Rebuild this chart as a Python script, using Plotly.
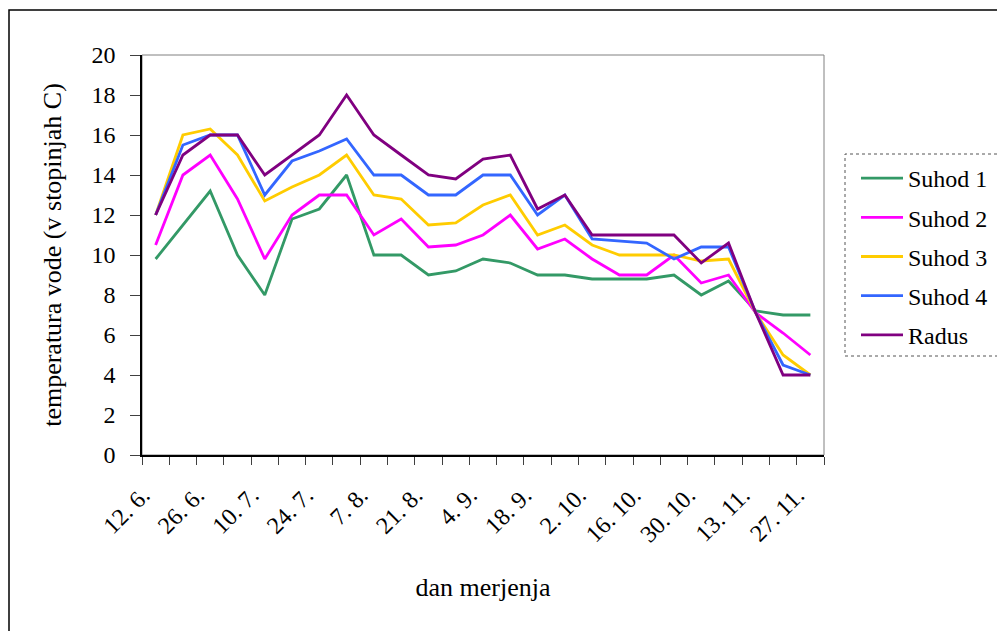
import plotly.graph_objects as go

dates = ["12. 6.", "19. 6.", "26. 6.", "3. 7.", "10. 7.", "17. 7.", "24. 7.", "31. 7.",
         "7. 8.", "14. 8.", "21. 8.", "28. 8.", "4. 9.", "11. 9.", "18. 9.", "25. 9.",
         "2. 10.", "9. 10.", "16. 10.", "23. 10.", "30. 10.", "6. 11.", "13. 11.", "20. 11.", "27. 11."]
shown_labels = ["12. 6.", "26. 6.", "10. 7.", "24. 7.", "7. 8.", "21. 8.", "4. 9.",
                "18. 9.", "2. 10.", "16. 10.", "30. 10.", "13. 11.", "27. 11."]

suhod1 = [9.8, 11.5, 13.2, 10, 8, 11.8, 12.3, 14, 10, 10, 9, 9.2, 9.8, 9.6, 9, 9, 8.8, 8.8, 8.8, 9, 8, 8.7, 7.2, 7, 7]
suhod2 = [10.5, 14, 15, 12.8, 9.8, 12, 13, 13, 11, 11.8, 10.4, 10.5, 11, 12, 10.3, 10.8, 9.8, 9, 9, 10, 8.6, 9, 7.1, 6.1, 5]
suhod3 = [12, 16, 16.3, 15, 12.7, 13.4, 14, 15, 13, 12.8, 11.5, 11.6, 12.5, 13, 11, 11.5, 10.5, 10, 10, 10, 9.7, 9.8, 7.1, 5, 4]
suhod4 = [12, 15.5, 16, 16, 13, 14.7, 15.2, 15.8, 14, 14, 13, 13, 14, 14, 12, 13, 10.8, 10.7, 10.6, 9.8, 10.4, 10.4, 7.1, 4.5, 4]
radus = [12, 15, 16, 16, 14, 15, 16, 18, 16, 15, 14, 13.8, 14.8, 15, 12.3, 13, 11, 11, 11, 11, 9.6, 10.6, 7.1, 4, 4]

series_names = ["Suhod 1", "Suhod 2", "Suhod 3", "Suhod 4", "Radus"]
series_values = [suhod1, suhod2, suhod3, suhod4, radus]
colors = ["#339966", "#FF00FF", "#FFCC00", "#3366FF", "#800080"]

FONT = '"Liberation Serif", "Times New Roman", Times, serif'

fig = go.Figure()
for name, vals, col in zip(series_names, series_values, colors):
    fig.add_trace(go.Scatter(x=dates, y=vals, mode="lines", name=name, legendgroup=name,
                             line=dict(color=col, width=2.8)))

ticktext = [d if d in shown_labels else "" for d in dates]

W, H = 997, 631
L, R, T, B = 142, 173, 55, 176
pw, ph = W - L - R, H - T - B

def px(x):
    return (x - L) / pw

def py(y):
    return (H - B - y) / ph

fig.update_layout(
    width=W, height=H,
    margin=dict(l=L, r=R, t=T, b=B, pad=0, autoexpand=False),
    paper_bgcolor="white", plot_bgcolor="white",
    font=dict(family=FONT, size=24, color="black"),
    showlegend=True,
    legend=dict(x=px(856), y=py(156), xanchor="left", yanchor="top",
                font=dict(family=FONT, size=24, color="black"), itemwidth=42,
                bgcolor="rgba(0,0,0,0)", borderwidth=0, tracegroupgap=5),
    xaxis=dict(type="category", tickmode="array", tickvals=dates, ticktext=ticktext,
               range=[-0.5, len(dates) - 0.5],
               tickson="boundaries", ticks="outside", ticklen=8, tickcolor="#404040",
               tickangle=-45, ticklabelstandoff=15, ticklabelshift=-13,
               showline=True, linecolor="black", linewidth=1.5,
               showgrid=False, zeroline=False,
               tickfont=dict(family=FONT, size=24),
               title=dict(text="dan merjenja", standoff=32, font=dict(family=FONT, size=26))),
    yaxis=dict(range=[0, 20], dtick=2, ticks="outside", ticklen=10, tickcolor="#404040",
               showline=True, linecolor="black", linewidth=1.5,
               showgrid=False, zeroline=False, ticklabelstandoff=10,
               tickfont=dict(family=FONT, size=24),
               title=dict(text="temperatura vode (v stopinjah C)", standoff=22,
                          font=dict(family=FONT, size=26))),
    shapes=[
        dict(type="rect", xref="paper", yref="paper", x0=0, x1=1, y0=0, y1=1,
             line=dict(color="#808080", width=1), layer="below"),
        dict(type="rect", xref="paper", yref="paper", x0=px(845), x1=px(1003),
             y0=py(356), y1=py(154), line=dict(color="#555555", width=1, dash="dot")),
        dict(type="rect", xref="paper", yref="paper", x0=px(9), x1=px(1010),
             y0=py(650), y1=py(10), line=dict(color="black", width=1.5)),
    ],
)

fig.write_html("out.html")
